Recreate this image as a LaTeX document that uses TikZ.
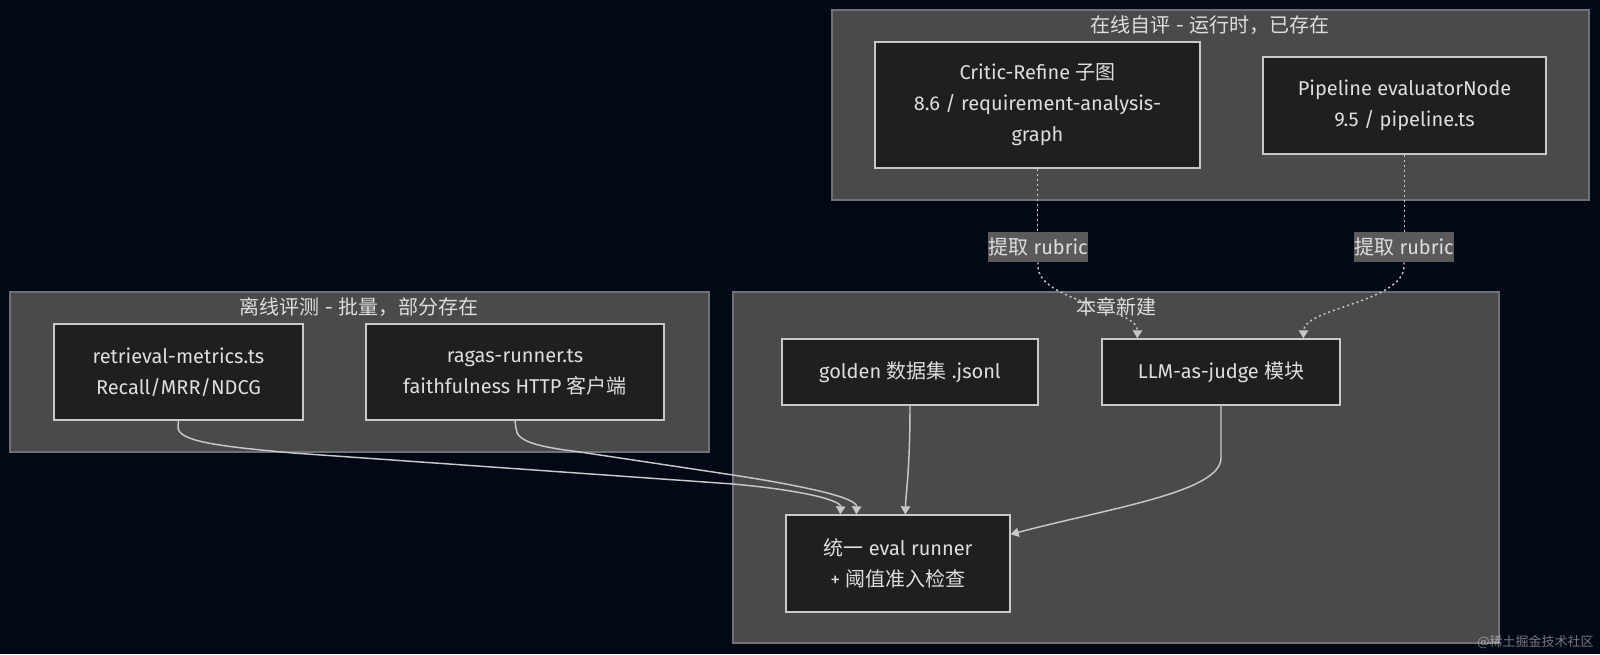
\documentclass[tikz,border=0pt]{standalone}
\usepackage{fontspec}
\setmainfont{Fira Sans}
\newfontfamily\zhfont{Noto Sans CJK SC}
\newcommand\zh[1]{{\zhfont #1}}
\usetikzlibrary{arrows.meta,calc}
\definecolor{bgc}{HTML}{030817}
\definecolor{clfill}{HTML}{4A4A4A}
\definecolor{cldraw}{HTML}{6E7178}
\definecolor{ndfill}{HTML}{1F1F1F}
\definecolor{nddraw}{HTML}{C8C8C8}
\definecolor{txt}{HTML}{DEDEDE}
\definecolor{edgec}{HTML}{C8C8C8}
\definecolor{lblfill}{HTML}{5A5A5A}
\tikzset{
  cluster/.style={fill=clfill,draw=cldraw,line width=0.9pt},
  cltitle/.style={text=txt,font=\fontsize{15pt}{23.25pt}\selectfont,inner sep=0pt},
  box/.style={rectangle,fill=ndfill,draw=nddraw,line width=1pt,text=txt,align=center,
    font=\fontsize{15pt}{23.25pt}\selectfont,inner sep=0pt},
  lbl/.style={rectangle,fill=lblfill,text=txt,inner sep=0pt,
    minimum width=74.25pt,minimum height=22.5pt,font=\fontsize{15pt}{23.25pt}\selectfont},
  link/.style={draw=edgec,line width=1.1pt,-{Triangle[length=6pt,width=7pt]}},
  dotlink/.style={draw=edgec,line width=1.1pt,dash pattern=on 1.5pt off 2.25pt},
  dotarrow/.style={dotlink,-{Triangle[length=6pt,width=7pt]}},
}
\begin{document}
\begin{tikzpicture}[x=0.75pt,y=-0.75pt]
\useasboundingbox (0,0) rectangle (1600,654);
\fill[bgc] (0,0) rectangle (1600,654);

% clusters
\draw[cluster] (832,10) rectangle (1589,200);
\draw[cluster] (10,292) rectangle (709,452);
\draw[cluster] (733,292) rectangle (1499,643);
\node[cltitle] (t1) at (1210,25) {\zh{在线自评} - \zh{运行时，已存在}};
\node[cltitle] (t2) at (359,307) {\zh{离线评测} - \zh{批量，部分存在}};
\node[cltitle] (t3) at (1116,307) {\zh{本章新建}};

% nodes
\node[box,minimum width=243.75pt,minimum height=94.5pt] (crit) at (1037.5,105)
  {Critic-Refine \zh{子图}\\8.6 / requirement-analysis-\\graph};
\node[box,minimum width=212.25pt,minimum height=72.75pt] (pipe) at (1404.5,105.5)
  {Pipeline evaluatorNode\\9.5 / pipeline.ts};
\node[box,minimum width=186.75pt,minimum height=72pt] (ret) at (178.5,372)
  {retrieval-metrics.ts\\Recall/MRR/NDCG};
\node[box,minimum width=223.5pt,minimum height=72pt] (ragas) at (515,372)
  {ragas-runner.ts\\faithfulness HTTP \zh{客户端}};
\node[box,minimum width=192pt,minimum height=49.5pt] (gold) at (910,372)
  {golden \zh{数据集} .jsonl};
\node[box,minimum width=178.5pt,minimum height=49.5pt] (llm) at (1221,372)
  {LLM-as-judge \zh{模块}};
\node[box,minimum width=168pt,minimum height=72.75pt] (eval) at (898,563.5)
  {\zh{统一} eval runner\\+ \zh{阈值准入检查}};

% dotted edges with labels
\draw[dotlink] (crit.south) -- ($(crit.south)+(0,64)$);
\node[lbl] (l1) at (1038,247) {\zh{提取} rubric};
\draw[dotlink] (pipe.south) -- ($(pipe.south)+(0,78)$);
\node[lbl] (l2) at (1404,247) {\zh{提取} rubric};
\draw[dotarrow] (l1.south) -- (1038,266) .. controls (1038,302) and (1138,308) .. ($(llm.north west)+(36,0)$);
\draw[dotarrow] (l2.south) -- (1404,266) .. controls (1404,302) and (1304,308) .. ($(llm.north west)+(202,0)$);

% solid edges
\draw[link] (ret.south) -- (178,427) .. controls (178,441) and (215,446) .. (293,453)
  -- (733,484) .. controls (800,490) and (841,500) .. ($(eval.north west)+(55,0)$);
\draw[link] (ragas.south) -- (516,428) .. controls (516,442) and (540,447) .. (580,452)
  -- (733,475) .. controls (810,487) and (857,498) .. ($(eval.north west)+(71,0)$);
\draw[link] (gold.south) .. controls (910,470) and (906,490) .. ($(eval.north west)+(120,0)$);
\draw[link] (llm.south) -- (1221,458) .. controls (1221,492) and (1110,508) .. ($(eval.north east)+(0,20)$);

% watermark
\node[text=white,opacity=0.45,font=\fontsize{9.75pt}{12pt}\zhfont,inner sep=0pt,anchor=east] (wm) at (1594,642) {@稀土掘金技术社区};
\end{tikzpicture}
\end{document}
